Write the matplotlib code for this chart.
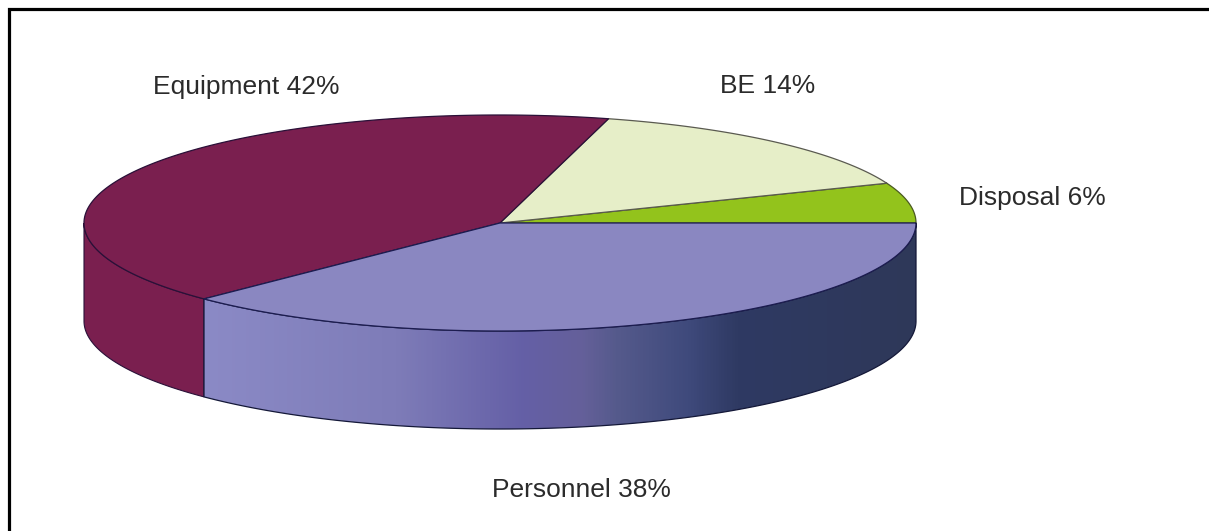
import numpy as np
import matplotlib
matplotlib.use("Agg")
import matplotlib.pyplot as plt
from matplotlib.patches import Polygon
from matplotlib.colors import LinearSegmentedColormap

categories = ["Disposal", "BE", "Equipment", "Personnel"]
label_shares = [6, 14, 42, 38]          # printed on the chart
drawn_shares = [6, 14.8, 41.6, 37.6]    # slice sizes
top_colors = ["#93c31c", "#e6eec8", "#7a1f4f", "#8a87c1"]
edge_colors = ["#4a5a20", "#5a5a50", "#2a1038", "#1c1c50"]
label_pos = [(1032, 205), (768, 93), (246, 94), (581.5, 497)]

W, H = 1209, 531
plt.rcParams["font.family"] = ["Liberation Sans", "DejaVu Sans"]
fig = plt.figure(figsize=(W / 100, H / 100), dpi=100)
ax = fig.add_axes([0, 0, 1, 1])
ax.set_xlim(0, W)
ax.set_ylim(H, 0)
ax.axis("off")

# frame: only left and top rules are present
ax.plot([9.3, 9.3, W], [H, 9, 9], color="black", lw=2.3, solid_joinstyle="miter", zorder=1)

cx, cy, rx, ry, depth = 500, 223, 416, 108, 98


def rim(a0, a1, n=300):
    t = np.radians(np.linspace(a0, a1, n))
    return cx + rx * np.cos(t), cy - ry * np.sin(t)


edges = np.concatenate([[0], np.cumsum(drawn_shares)]) * 3.6
end_eq = edges[3]

# equipment side wall
x, y = rim(180, end_eq)
ax.add_patch(Polygon(np.r_[np.c_[x, y], np.c_[x[::-1], y[::-1] + depth]],
                     fc="#7a1f4f", ec="#2a1038", lw=0.8, zorder=2))

# personnel side wall, shaded left to right
x, y = rim(end_eq, 360)
outline = np.r_[np.c_[x, y], np.c_[x[::-1], y[::-1] + depth]]
side = Polygon(outline, fc="none", ec="none", zorder=2)
ax.add_patch(side)
cmap = LinearSegmentedColormap.from_list(
    "side",
    [(0.0, "#8b8ac6"), (0.27, "#7e7cb8"), (0.45, "#645fa6"), (0.53, "#65609a"),
     (0.58, "#555a8c"), (0.68, "#3f4a7c"), (0.75, "#2f3a63"), (1.0, "#2e3859")])
im = ax.imshow(np.linspace(0, 1, 512)[None, :], cmap=cmap, aspect="auto",
               extent=(x.min(), x.max(), cy + ry + depth + 5, cy - 5), zorder=2)
im.set_clip_path(side)
ax.set_xlim(0, W)
ax.set_ylim(H, 0)
ax.add_patch(Polygon(outline, fc="none", ec="#141838", lw=0.9, zorder=3))

# top face
for i, c in enumerate(top_colors):
    x, y = rim(edges[i], edges[i + 1])
    ax.add_patch(Polygon(np.r_[[[cx, cy]], np.c_[x, y]], closed=True,
                         fc=c, ec=edge_colors[i], lw=0.9, zorder=4 + (i == 3) * 0.5,
                         joinstyle="round"))

for name, s, (lx, ly) in zip(categories, label_shares, label_pos):
    ax.text(lx, ly, f"{name} {s}%", ha="center", va="baseline",
            fontsize=19, color="#2b2b2b", zorder=6)

fig.savefig("out.png", dpi=100)
